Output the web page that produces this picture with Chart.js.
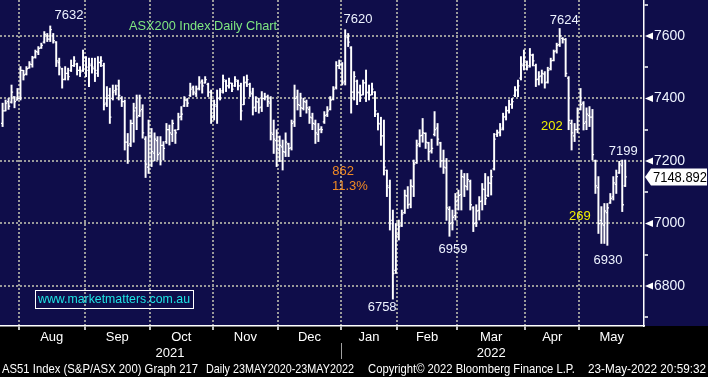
<!DOCTYPE html>
<html>
<head>
<meta charset="utf-8">
<script src="https://cdn.jsdelivr.net/npm/chart.js@4.4.1/dist/chart.umd.min.js"></script>
<style>
  html, body { margin: 0; padding: 0; background: #000; }
</style>
</head>
<body>
<canvas id="chartAsx" width="708" height="377"></canvas>
<script>
// ASX200 daily OHLC, 23 Jul 2021 - 23 May 2022 (one entry per trading day)
const opens = [
  7320, 7360, 7390, 7388, 7405, 7395,
  7400, 7490, 7478, 7497, 7508, 7532, 7548, 7562, 7580, 7600, 7590, 7600, 7580, 7515, 7495, 7462, 7480, 7490, 7505, 7510, 7490, 7490,
  7530, 7490, 7505, 7495, 7480, 7515, 7505, 7385, 7410, 7400, 7425, 7440, 7400, 7390, 7260, 7255, 7320, 7370, 7345, 7365, 7270, 7180,
  7280, 7225, 7265, 7225, 7250, 7262, 7300, 7285, 7298, 7300, 7342, 7376, 7395, 7410, 7435, 7415, 7432, 7455, 7450, 7445, 7420,
  7345, 7375, 7402, 7425, 7455, 7440, 7448, 7440, 7455, 7440, 7380, 7452, 7445, 7415, 7372, 7388, 7372, 7400, 7405, 7385, 7285, 7265,
  7235, 7245, 7228, 7255, 7242, 7325, 7405, 7378, 7368, 7388, 7365, 7338, 7318, 7285, 7302, 7325, 7348, 7365, 7398, 7435, 7505,
  7510, 7455, 7595, 7562, 7420, 7455, 7418, 7412, 7450, 7418, 7412, 7420, 7350, 7318, 7280, 7170, 7115, 7010, 6850,
  6965, 6995, 7035, 7088, 7062, 7118, 7195, 7255, 7282, 7288, 7258, 7232, 7285, 7305, 7258, 7200, 7178, 7045, 7002, 7025,
  7075, 7092, 7148, 7118, 7135, 7050, 7002, 7042, 7072, 7108, 7090, 7128, 7175, 7285, 7292, 7305, 7342, 7362, 7382, 7410, 7428, 7465, 7505,
  7515, 7505, 7538, 7505, 7462, 7472, 7478, 7452, 7495, 7522, 7552, 7572, 7592, 7588, 7465, 7320, 7280, 7300,
  7365, 7385, 7325, 7345, 7340, 7200, 7115, 7010, 6995, 7035, 7066, 7085, 7125, 7162, 7185, 7120
];
const highs = [
  7385, 7395, 7400, 7443, 7406, 7432,
  7502, 7490, 7502, 7518, 7535, 7555, 7566, 7577, 7614, 7608, 7632, 7608, 7582, 7529, 7497, 7502, 7497, 7523, 7534, 7513, 7502, 7555,
  7534, 7529, 7529, 7529, 7534, 7534, 7513, 7438, 7433, 7443, 7443, 7459, 7406, 7395, 7288, 7331, 7385, 7411, 7411, 7380, 7278, 7331,
  7304, 7290, 7278, 7278, 7262, 7320, 7315, 7331, 7300, 7353, 7374, 7406, 7400, 7449, 7440, 7440, 7470, 7460, 7470, 7449, 7427,
  7395, 7427, 7432, 7475, 7459, 7465, 7449, 7470, 7459, 7449, 7470, 7475, 7449, 7433, 7406, 7401, 7422, 7417, 7411, 7406, 7331, 7300,
  7280, 7267, 7290, 7257, 7331, 7443, 7427, 7417, 7401, 7395, 7374, 7353, 7331, 7320, 7310, 7358, 7374, 7406, 7438, 7518, 7523,
  7515, 7620, 7608, 7566, 7486, 7459, 7443, 7459, 7491, 7443, 7449, 7422, 7353, 7340, 7331, 7171, 7139, 7043, 7000,
  7011, 7043, 7107, 7118, 7140, 7203, 7267, 7300, 7336, 7290, 7260, 7270, 7358, 7320, 7260, 7235, 7208, 7054, 7043, 7096,
  7107, 7171, 7160, 7160, 7139, 7054, 7060, 7086, 7128, 7160, 7150, 7171, 7288, 7299, 7320, 7353, 7374, 7395, 7400, 7438, 7459, 7534, 7555,
  7520, 7560, 7542, 7510, 7486, 7491, 7486, 7500, 7529, 7555, 7577, 7624, 7595, 7592, 7470, 7331, 7320, 7370,
  7432, 7390, 7370, 7374, 7365, 7203, 7150, 7054, 7064, 7064, 7096, 7150, 7171, 7199, 7203, 7203
];
const lows = [
  7310, 7360, 7365, 7385, 7370, 7395,
  7395, 7459, 7475, 7497, 7500, 7529, 7540, 7560, 7577, 7582, 7582, 7577, 7502, 7475, 7433, 7459, 7459, 7486, 7502, 7475, 7470, 7486,
  7470, 7438, 7481, 7454, 7470, 7502, 7363, 7374, 7320, 7395, 7411, 7395, 7374, 7235, 7192, 7246, 7260, 7300, 7342, 7273, 7147, 7160,
  7182, 7200, 7203, 7187, 7203, 7256, 7251, 7262, 7256, 7300, 7331, 7374, 7374, 7406, 7411, 7406, 7427, 7417, 7449, 7406, 7320,
  7331, 7320, 7395, 7417, 7422, 7433, 7422, 7438, 7427, 7331, 7380, 7438, 7406, 7347, 7358, 7353, 7358, 7395, 7374, 7267, 7224, 7182,
  7198, 7171, 7214, 7214, 7235, 7310, 7363, 7342, 7363, 7353, 7320, 7300, 7256, 7262, 7290, 7320, 7342, 7363, 7395, 7430, 7495,
  7443, 7443, 7566, 7353, 7395, 7380, 7390, 7411, 7390, 7395, 7411, 7342, 7299, 7250, 7155, 7086, 6979, 6758, 6840,
  6947, 6990, 7032, 7048, 7050, 7086, 7192, 7245, 7260, 7240, 7203, 7225, 7280, 7250, 7180, 7160, 7010, 6959, 6979, 7011,
  7043, 7043, 7086, 7107, 7043, 6974, 6990, 7011, 7043, 7060, 7086, 7091, 7171, 7278, 7280, 7299, 7331, 7353, 7368, 7406, 7406, 7459, 7491,
  7491, 7500, 7504, 7438, 7443, 7449, 7433, 7449, 7491, 7520, 7545, 7566, 7577, 7470, 7300, 7235, 7262, 7290,
  7363, 7299, 7300, 7310, 7203, 7096, 6968, 6936, 6936, 6930, 7064, 7075, 7096, 7160, 7038, 7118
];
const closes = [
  7360, 7385, 7375, 7420, 7390, 7400,
  7490, 7475, 7495, 7510, 7530, 7550, 7560, 7570, 7605, 7590, 7620, 7585, 7520, 7500, 7460, 7480, 7470, 7505, 7520, 7490, 7485, 7530,
  7500, 7510, 7500, 7490, 7515, 7520, 7380, 7400, 7340, 7420, 7430, 7410, 7390, 7260, 7250, 7320, 7360, 7340, 7360, 7290, 7190, 7280,
  7230, 7270, 7220, 7250, 7240, 7300, 7290, 7320, 7290, 7340, 7350, 7395, 7385, 7430, 7420, 7430, 7450, 7440, 7460, 7420, 7340,
  7380, 7400, 7420, 7460, 7440, 7450, 7430, 7460, 7440, 7360, 7450, 7460, 7420, 7370, 7390, 7370, 7400, 7405, 7390, 7290, 7270, 7240,
  7250, 7230, 7260, 7240, 7320, 7400, 7380, 7370, 7390, 7370, 7340, 7320, 7290, 7300, 7300, 7345, 7360, 7395, 7430, 7505, 7510,
  7450, 7600, 7580, 7420, 7470, 7420, 7410, 7450, 7420, 7410, 7430, 7360, 7320, 7280, 7180, 7120, 7000, 6840, 6960,
  6990, 7030, 7090, 7060, 7120, 7190, 7250, 7280, 7290, 7260, 7230, 7240, 7300, 7270, 7200, 7180, 7050, 7000, 7020, 7070,
  7090, 7150, 7120, 7140, 7060, 7000, 7040, 7070, 7110, 7080, 7130, 7150, 7270, 7290, 7300, 7340, 7360, 7380, 7390, 7425, 7440, 7510, 7530,
  7500, 7540, 7520, 7460, 7470, 7480, 7450, 7490, 7520, 7550, 7570, 7600, 7590, 7480, 7330, 7290, 7300, 7360,
  7380, 7320, 7350, 7340, 7220, 7120, 7000, 7000, 7040, 7050, 7080, 7130, 7150, 7190, 7060, 7148.892
];

// index of first trading day of each month, and the labels
const monthStarts = [6, 28, 50, 71, 93, 114, 133, 153, 176, 194];
const monthLabels = ['Aug', 'Sep', 'Oct', 'Nov', 'Dec', 'Jan', 'Feb', 'Mar', 'Apr', 'May'];
const yearLabels = ['2021', '2022'];
const yearSlots = [56.7, 164.5];
const yTickValues = [6700, 6800, 6900, 7000, 7100, 7200, 7300, 7400, 7500, 7600, 7700];

// chart notes (text anchored on bar slot / price level)
const notes = [
  { text: '7632', at: 22.8, level: 7667, color: '#eef3ff' },
  { text: '7620', at: 119.8, level: 7654, color: '#eef3ff' },
  { text: '7624', at: 189.0, level: 7651, color: '#eef3ff' },
  { text: '7199', at: 208.8, level: 7229, color: '#eef3ff' },
  { text: '6959', at: 151.7, level: 6918, color: '#eef3ff' },
  { text: '6758', at: 127.9, level: 6733, color: '#eef3ff' },
  { text: '6930', at: 203.7, level: 6883, color: '#eef3ff' },
  { text: '862', at: 114.8, level: 7168, color: '#f08a24' },
  { text: '11.3%', at: 117.1, level: 7117, color: '#f08a24' },
  { text: '202', at: 184.9, level: 7309, color: '#f0f000' },
  { text: '269', at: 194.3, level: 7021, color: '#f0f000' },
  { text: 'ASX200 Index Daily Chart', at: 67.8, level: 7632, color: '#80e880', width: 148 }
];

const NAVY = '#0f0d4a';
const GRID = '#9a9a9a';
const FONT = 'Arial, "Liberation Sans", sans-serif';

const boundarySet = new Set(monthStarts);
const xTicks = [];
monthStarts.forEach((b, k) => {
  const end = k + 1 < monthStarts.length ? monthStarts[k + 1] : 216;
  xTicks.push({ value: b, label: '' });
  xTicks.push({ value: (b + end) / 2, label: monthLabels[k] });
});
yearLabels.forEach((t, k) => xTicks.push({ value: yearSlots[k] + 0.001, label: ['', t] }));
xTicks.sort((a, b) => a.value - b.value);

function noPadding(s) {
  s.paddingLeft = 0; s.paddingRight = 0; s.paddingTop = 0; s.paddingBottom = 0;
}

const bbgDecor = {
  id: 'bbgDecor',
  beforeDraw(chart) {
    const { ctx, chartArea } = chart;
    ctx.save();
    ctx.fillStyle = '#000';
    ctx.fillRect(0, 0, chart.width, chart.height);
    ctx.fillStyle = NAVY;
    ctx.fillRect(0, 0, chart.width, chartArea.bottom);
    ctx.restore();
  },
  afterDatasetsDraw(chart) {
    const { ctx, scales: { x, y } } = chart;
    ctx.save();
    // open / close ticks
    ctx.strokeStyle = '#ffffff';
    ctx.lineWidth = 1.3;
    ctx.beginPath();
    closes.forEach((c, i) => {
      const px = x.getPixelForValue(i + 0.5);
      const po = y.getPixelForValue(opens[i]);
      const pc = y.getPixelForValue(c);
      ctx.moveTo(px - 1.6, po); ctx.lineTo(px, po);
      ctx.moveTo(px, pc); ctx.lineTo(px + 1.6, pc);
    });
    ctx.stroke();

    // text notes
    ctx.textAlign = 'center';
    ctx.textBaseline = 'middle';
    notes.forEach(n => {
      ctx.font = '13px ' + FONT;
      ctx.fillStyle = n.color;
      ctx.fillText(n.text, x.getPixelForValue(n.at), y.getPixelForValue(n.level), n.width || 200);
    });

    // website box
    const ux = x.getPixelForValue(37.9), uy = y.getPixelForValue(6758);
    ctx.strokeStyle = '#ffffff';
    ctx.lineWidth = 1;
    ctx.strokeRect(Math.round(ux - 79) + 0.5, Math.round(uy - 9) + 0.5, 158, 18);
    ctx.font = '13px ' + FONT;
    ctx.fillStyle = '#1ee4e4';
    ctx.fillText('www.marketmatters.com.au', ux, uy + 0.5, 152);
    ctx.restore();
  },
  afterDraw(chart) {
    const { ctx, chartArea, scales: { x, y } } = chart;
    ctx.save();
    // arrow markers on the price axis
    ctx.fillStyle = '#ffffff';
    yTickValues.filter(v => v % 200 === 0).forEach(v => {
      const py = y.getPixelForValue(v);
      ctx.beginPath();
      ctx.moveTo(chartArea.right + 1, py);
      ctx.lineTo(chartArea.right + 9, py - 3.5);
      ctx.lineTo(chartArea.right + 9, py + 3.5);
      ctx.closePath();
      ctx.fill();
    });

    // last price tag
    const last = closes[closes.length - 1];
    const ly = Math.round(y.getPixelForValue(last));
    ctx.beginPath();
    ctx.moveTo(chartArea.right + 1, ly);
    ctx.lineTo(chartArea.right + 7, ly - 8.5);
    ctx.lineTo(chartArea.right + 63, ly - 8.5);
    ctx.lineTo(chartArea.right + 63, ly + 8.5);
    ctx.lineTo(chartArea.right + 7, ly + 8.5);
    ctx.closePath();
    ctx.fill();
    ctx.fillStyle = '#000000';
    ctx.font = '14px ' + FONT;
    ctx.textAlign = 'left';
    ctx.textBaseline = 'middle';
    ctx.fillText(last.toFixed(3), chartArea.right + 9, ly + 1, 54);

    // year divider
    const dx = Math.round(x.getPixelForValue(monthStarts[5])) + 0.5;
    ctx.strokeStyle = '#a0a0a0';
    ctx.lineWidth = 1;
    ctx.beginPath();
    ctx.moveTo(dx, chartArea.bottom + 17);
    ctx.lineTo(dx, chartArea.bottom + 33);
    ctx.stroke();

    // footer line
    ctx.fillStyle = '#ffffff';
    ctx.font = '13px ' + FONT;
    ctx.textBaseline = 'alphabetic';
    [
      ['AS51 Index (S&P/ASX 200) Graph 217', 2, 196],
      ['Daily 23MAY2020-23MAY2022', 206, 148],
      ['Copyright\u00a9 2022 Bloomberg Finance L.P.', 368, 207],
      ['23-May-2022 20:59:32', 588, 118]
    ].forEach(([t, fx, w]) => ctx.fillText(t, fx, 373, w));
    ctx.restore();
  }
};

const ctx = document.getElementById('chartAsx').getContext('2d');
new Chart(ctx, {
  type: 'bar',
  data: {
    datasets: [{
      label: 'AS51',
      data: highs.map((h, i) => ({ x: i + 0.5, y: [lows[i], h] })),
      backgroundColor: '#ffffff',
      borderWidth: 0,
      barThickness: 1.3
    }]
  },
  options: {
    responsive: false,
    animation: false,
    devicePixelRatio: 1,
    layout: { padding: 0 },
    plugins: {
      legend: { display: false },
      tooltip: { enabled: false }
    },
    scales: {
      x: {
        type: 'linear',
        offset: false,
        bounds: 'data',
        min: -0.37,
        max: 215.8,
        afterBuildTicks: s => { s.ticks = xTicks.map(t => ({ value: t.value })); },
        afterFit: s => { s.height = 51; noPadding(s); },
        grid: {
          offset: false,
          color: c => (c.tick && boundarySet.has(c.tick.value)) ? GRID : 'transparent',
          lineWidth: 2,
          tickLength: 4,
          tickWidth: 1.5,
          tickColor: c => (c.tick && boundarySet.has(c.tick.value)) ? '#ffffff' : 'transparent'
        },
        border: { color: '#ffffff', width: 1.5, dash: [2, 2] },
        ticks: {
          autoSkip: false,
          maxRotation: 0,
          padding: 0,
          color: '#ffffff',
          font: { family: FONT, size: 13, lineHeight: 1.2 },
          callback: (v, i) => xTicks[i].label
        }
      },
      y: {
        position: 'right',
        bounds: 'data',
        min: 6672,
        max: 7715,
        afterBuildTicks: s => { s.ticks = yTickValues.map(v => ({ value: v })); },
        afterFit: s => { s.width = 64; noPadding(s); },
        grid: {
          color: c => (c.tick && c.tick.value % 200 === 0) ? GRID : 'transparent',
          lineWidth: 2,
          tickLength: 4,
          tickWidth: 1.5,
          tickColor: c => (c.tick && c.tick.value % 200 !== 0) ? '#ffffff' : 'transparent'
        },
        border: { color: '#ffffff', width: 1.5, dash: [2, 2] },
        ticks: {
          padding: 6,
          color: '#eef3ff',
          font: { family: FONT, size: 14 },
          callback: v => (v % 200 === 0 ? String(v) : '')
        }
      }
    }
  },
  plugins: [bbgDecor]
});
</script>
</body>
</html>
